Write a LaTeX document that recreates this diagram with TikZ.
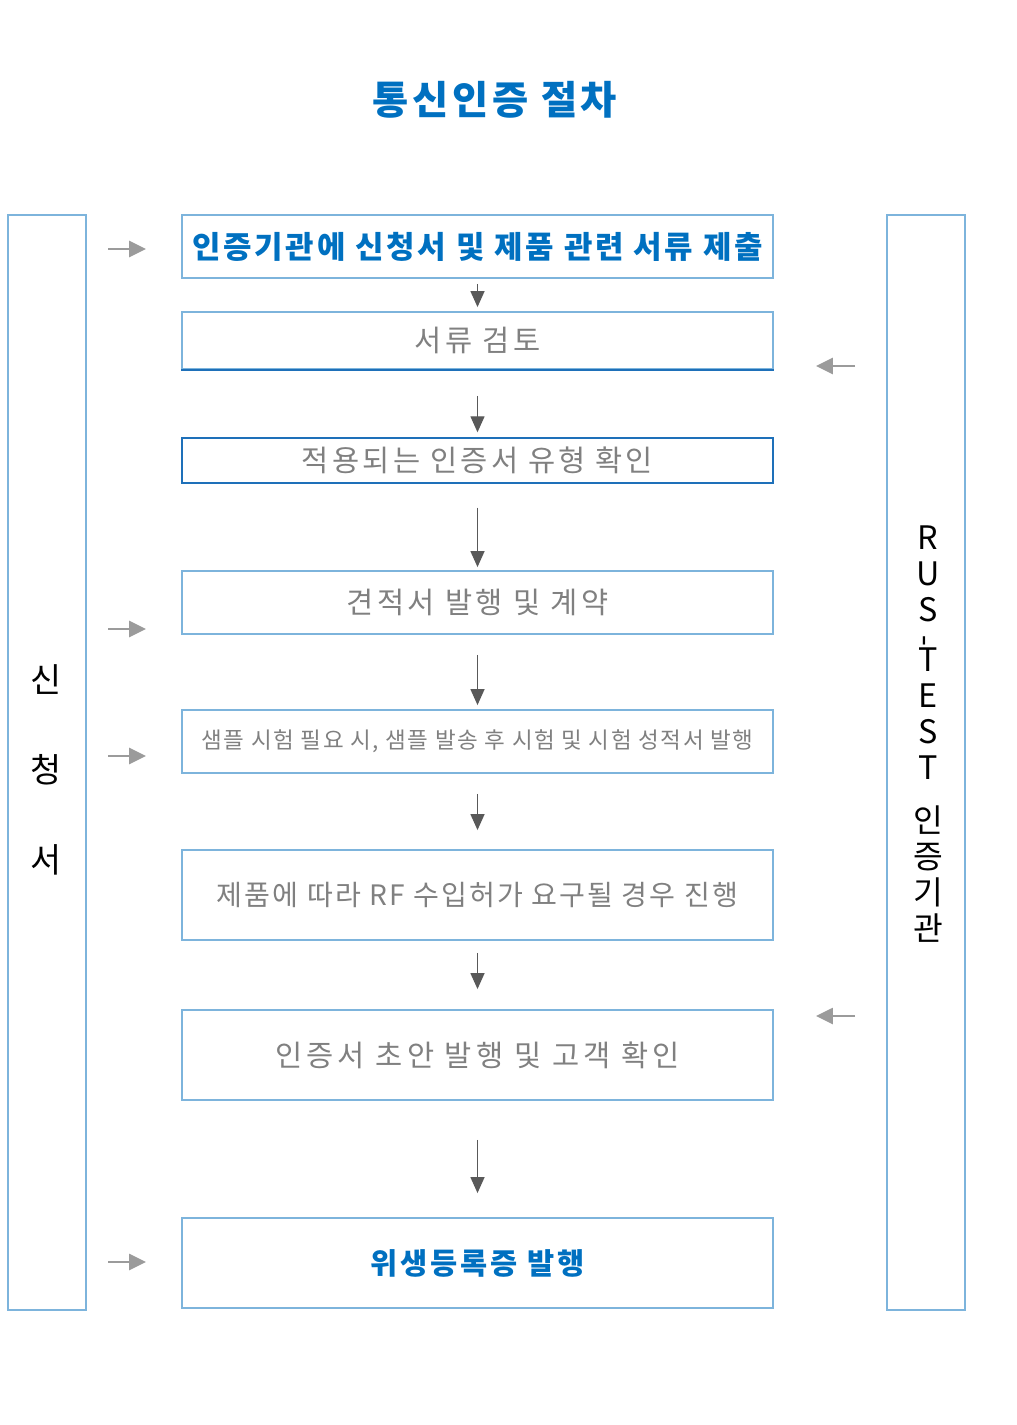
\documentclass[tikz,border=0pt]{standalone}
\usepackage{fontspec}
\usepackage{xcolor}
\usepackage{graphicx}
\usepackage{tikz}
\usetikzlibrary{arrows.meta}
\setmainfont{Noto Sans CJK KR}
\definecolor{procblue}{RGB}{0,112,192}
\definecolor{procline}{RGB}{125,180,220}
\definecolor{procdark}{RGB}{30,112,185}
\definecolor{proctext}{RGB}{128,128,128}
\definecolor{procarrowgray}{RGB}{89,89,89}
\definecolor{procside}{RGB}{155,155,155}
\newcommand{\procfont}[2]{\fontsize{#1}{1.2\dimexpr#1\relax}\selectfont\addfontfeature{LetterSpace=#2}}
\tikzset{
  procbox/.style={
    rectangle,
    draw=procline,
    line width=1.3pt,
    minimum width=14.775cm,
    inner sep=0pt,
    align=center,
    text=proctext,
    font=\procfont{21pt}{12}
  },
  proccol/.style={
    rectangle,
    draw=procline,
    line width=1.3pt,
    minimum width=1.95cm,
    minimum height=27.375cm,
    inner sep=0pt
  },
  procarrow/.style={
    -{Triangle[length=0.4cm,width=0.35cm]},
    line width=1pt,
    draw=procarrowgray
  },
  procin/.style={
    -{Triangle[length=0.42cm,width=0.4cm]},
    line width=1.5pt,
    draw=procside,
    shorten <=0.55cm,
    shorten >=0.875cm
  },
  procout/.style={
    -{Triangle[length=0.42cm,width=0.4cm]},
    line width=1.5pt,
    draw=procside,
    shorten <=0.8cm,
    shorten >=1.05cm
  }
}

\begin{document}
\begin{tikzpicture}[x=0.025cm, y=-0.025cm]
\useasboundingbox (0,0) rectangle (1017,1425);

\node[text=procblue, font=\procfont{28pt}{9}\bfseries] (title) at (495,100) {통신인증 절차};

% side columns
\node[proccol] (applicant) at (47,762.5) {};
\node[proccol] (agency) at (926,762.5) {};
\node[align=center, font=\fontsize{24pt}{64pt}\selectfont] (applicantlbl) at (46,770) {신\\청\\서};
\node[align=center, font=\fontsize{23pt}{25.6pt}\selectfont] (agencylbl) at (928,734)
  {R\\U\\S\\[-8pt]\rotatebox{90}{-}\\[-8pt]T\\E\\S\\T\\[12pt]인\\증\\기\\관};

% process steps
\node[procbox, minimum height=1.575cm, text=procblue, font=\procfont{22pt}{9}\bfseries] (submit) at (477.5,246.5) {인증기관에 신청서 및 제품 관련 서류 제출};
\node[procbox, minimum height=1.425cm, font=\procfont{21pt}{12}] (review) at (477.5,340.5) {서류 검토};
\node[procbox, draw=procdark, line width=1pt, minimum height=1.125cm, font=\procfont{21pt}{11}] (certtype) at (477.5,460.5) {적용되는 인증서 유형 확인};
\node[procbox, minimum height=1.575cm] (quote) at (477.5,602.5) {견적서 발행 및 계약};
\node[procbox, minimum height=1.575cm, font=\procfont{16pt}{7}] (sample) at (477.5,741.5) {샘플 시험 필요 시, 샘플 발송 후 시험 및 시험 성적서 발행};
\node[procbox, minimum height=2.25cm, font=\procfont{20pt}{7.5}] (rfpermit) at (477.5,895) {제품에 따라 RF 수입허가 요구될 경우 진행};
\node[procbox, minimum height=2.25cm, font=\procfont{21pt}{14}] (draft) at (477.5,1055) {인증서 초안 발행 및 고객 확인};
\node[procbox, minimum height=2.25cm, text=procblue, font=\procfont{21pt}{10}\bfseries] (hygiene) at (477.5,1263) {위생등록증 발행};
\draw[procdark, line width=1.3pt] (review.south west) -- (review.south east);

\draw[procarrow, shorten <=0.125cm, shorten >=0.1cm] (submit.south) -- (review.north);
\draw[procarrow, shorten <=0.65cm, shorten >=0.125cm] (review.south) -- (certtype.north);
\draw[procarrow, shorten <=0.6cm, shorten >=0.075cm] (certtype.south) -- (quote.north);
\draw[procarrow, shorten <=0.5cm, shorten >=0.1cm] (quote.south) -- (sample.north);
\draw[procarrow, shorten <=0.5cm, shorten >=0.475cm] (sample.south) -- (rfpermit.north);
\draw[procarrow, shorten <=0.3cm, shorten >=0.5cm] (rfpermit.south) -- (draft.north);
\draw[procarrow, shorten <=0.975cm, shorten >=0.6cm] (draft.south) -- (hygiene.north);

% arrows from the applicant
\coordinate (inSubmit) at (86,249);
\coordinate (inQuote) at (86,629);
\coordinate (inSample) at (86,756);
\coordinate (inHygiene) at (86,1262);
\draw[procin] (inSubmit) -- (inSubmit -| submit.west);
\draw[procin] (inQuote) -- (inQuote -| quote.west);
\draw[procin] (inSample) -- (inSample -| sample.west);
\draw[procin] (inHygiene) -- (inHygiene -| hygiene.west);

% arrows from the agency
\coordinate (outReview) at (887,366);
\coordinate (outDraft) at (887,1016);
\draw[procout] (outReview) -- (outReview -| review.east);
\draw[procout] (outDraft) -- (outDraft -| draft.east);
\end{tikzpicture}
\end{document}
